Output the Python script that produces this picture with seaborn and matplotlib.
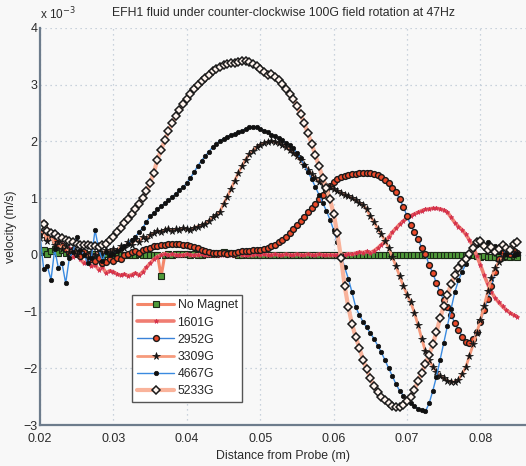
import matplotlib
matplotlib.use("Agg")
import matplotlib.pyplot as plt
import numpy as np
import pandas as pd
import seaborn as sns

# velocity in units of 1e-3 m/s, sampled every 0.5 mm from 0.020 m to 0.085 m
no_magnet = [
    0.05, 0.08, 0.02, 0.06, 0.10, 0.04, 0.08, 0.03, 0.05, 0.02,
    0.04, 0.01, 0.03, 0.00, 0.02, 0.01, 0.00, -0.02, 0.01, 0.00,
    0.00, 0.01, 0.00, 0.00, -0.01, 0.00, 0.00, 0.01, 0.00, 0.00,
    0.00, 0.00, 0.00, -0.38, 0.00, 0.01, 0.00, 0.02, 0.01, 0.02,
    0.01, 0.00, 0.01, 0.00, 0.00, 0.01, 0.02, 0.03, 0.02, 0.04,
    0.05, 0.04, 0.03, 0.01, 0.00, 0.00, 0.01, 0.00, 0.00, 0.00,
    0.00, 0.00, 0.00, 0.00, 0.00, 0.00, 0.00, 0.00, 0.00, 0.00,
    0.00, 0.00, 0.00, 0.00, 0.00, 0.00, 0.00, 0.00, 0.00, 0.00,
    0.00, 0.00, 0.00, 0.00, 0.00, 0.00, 0.00, 0.00, 0.00, 0.00,
    0.00, 0.00, 0.00, 0.00, 0.00, 0.00, 0.00, 0.00, 0.00, 0.00,
    0.00, 0.00, 0.00, 0.00, 0.00, 0.00, 0.00, 0.00, 0.00, 0.00,
    0.00, 0.00, 0.00, 0.00, 0.00, 0.00, 0.00, 0.00, -0.01, -0.02,
    -0.03, -0.02, -0.03, -0.04, -0.03, -0.04, -0.03, -0.02, -0.03, -0.02,
    -0.03,
]
g1601 = [
    0.56, 0.58, 0.45, 0.38, 0.26, 0.32, 0.20, 0.09, 0.12, -0.03,
    0.03, -0.08, -0.15, -0.10, -0.20, -0.18, -0.26, -0.22, -0.32, -0.28,
    -0.30, -0.34, -0.36, -0.34, -0.37, -0.35, -0.32, -0.36, -0.30, -0.22,
    -0.15, -0.08, -0.03, 0.00, 0.02, 0.00, 0.01, 0.00, -0.01, 0.00,
    0.01, 0.00, -0.01, 0.00, 0.01, 0.00, 0.00, 0.01, 0.00, -0.01,
    0.00, 0.01, 0.00, 0.00, 0.01, 0.00, -0.01, 0.00, 0.00, 0.01,
    0.00, 0.01, 0.00, 0.00, 0.01, 0.00, 0.00, 0.01, 0.00, 0.00,
    0.01, 0.00, 0.00, 0.01, 0.00, 0.00, 0.01, 0.00, 0.00, 0.00,
    0.00, 0.00, 0.01, 0.00, 0.02, 0.01, 0.03, 0.05, 0.04, 0.06,
    0.04, 0.07, 0.12, 0.18, 0.23, 0.31, 0.40, 0.47, 0.54, 0.60,
    0.65, 0.69, 0.72, 0.75, 0.78, 0.80, 0.81, 0.82, 0.82, 0.81,
    0.79, 0.75, 0.66, 0.57, 0.50, 0.44, 0.36, 0.26, 0.15, -0.02,
    -0.18, -0.36, -0.52, -0.66, -0.76, -0.84, -0.91, -0.97, -1.02, -1.06,
    -1.09,
]
g2952 = [
    0.40, 0.55, 0.30, 0.38, 0.25, 0.20, 0.15, 0.10, 0.05, 0.08,
    0.02, -0.02, 0.05, 0.00, -0.08, -0.10, -0.05, -0.15, -0.12, -0.08,
    -0.10, -0.05, -0.08, 0.00, 0.02, 0.05, 0.06, 0.04, 0.08, 0.10,
    0.12, 0.15, 0.16, 0.18, 0.18, 0.20, 0.20, 0.19, 0.20, 0.18,
    0.18, 0.16, 0.14, 0.12, 0.09, 0.07, 0.05, 0.04, 0.03, 0.03,
    0.03, 0.02, 0.03, 0.04, 0.05, 0.06, 0.06, 0.07, 0.08, 0.09,
    0.09, 0.10, 0.12, 0.15, 0.18, 0.22, 0.27, 0.32, 0.38, 0.45,
    0.52, 0.60, 0.67, 0.75, 0.82, 0.90, 0.98, 1.06, 1.14, 1.22,
    1.28, 1.33, 1.37, 1.39, 1.40, 1.42, 1.43, 1.44, 1.44, 1.45,
    1.44, 1.42, 1.40, 1.37, 1.32, 1.26, 1.18, 1.10, 0.98, 0.85,
    0.68, 0.52, 0.40, 0.28, 0.12, 0.02, -0.18, -0.32, -0.50, -0.66,
    -0.80, -0.92, -1.06, -1.20, -1.32, -1.44, -1.53, -1.55, -1.49, -1.36,
    -1.18, -0.98, -0.78, -0.55, -0.30, -0.08, 0.04, 0.08, 0.02, 0.06,
    0.04,
]
g3309 = [
    0.30, 0.42, 0.25, 0.35, 0.18, 0.22, 0.10, 0.15, 0.05, 0.08,
    0.02, 0.05, 0.00, -0.05, 0.02, 0.00, 0.05, 0.02, 0.08, 0.05,
    0.10, 0.06, 0.15, 0.12, 0.22, 0.18, 0.28, 0.22, 0.32, 0.28,
    0.35, 0.38, 0.42, 0.40, 0.44, 0.46, 0.42, 0.45, 0.44, 0.47,
    0.45, 0.44, 0.48, 0.50, 0.52, 0.55, 0.60, 0.66, 0.70, 0.76,
    0.90, 1.02, 1.16, 1.30, 1.44, 1.56, 1.68, 1.77, 1.84, 1.90,
    1.94, 1.97, 1.99, 2.00, 1.99, 1.97, 1.94, 1.90, 1.85, 1.80,
    1.74, 1.67, 1.59, 1.50, 1.42, 1.35, 1.29, 1.25, 1.22, 1.20,
    1.16, 1.12, 1.09, 1.06, 1.03, 1.00, 0.96, 0.92, 0.88, 0.80,
    0.68, 0.58, 0.46, 0.36, 0.25, 0.12, -0.04, -0.20, -0.38, -0.55,
    -0.70, -0.84, -1.02, -1.24, -1.48, -1.70, -1.86, -1.97, -2.06, -2.13,
    -2.18, -2.22, -2.24, -2.24, -2.20, -2.10, -1.98, -1.78, -1.58, -1.37,
    -1.15, -0.90, -0.64, -0.40, -0.24, -0.12, -0.04, 0.02, 0.05, 0.00,
    0.03,
]
g4667 = [
    0.35, -0.25, -0.20, -0.44, 0.10, -0.23, -0.15, -0.50, -0.05, 0.05,
    0.32, 0.09, 0.00, -0.15, -0.05, 0.44, 0.10, -0.10, 0.05, 0.00,
    0.02, 0.06, 0.10, 0.15, 0.20, 0.26, 0.32, 0.40, 0.48, 0.58,
    0.68, 0.74, 0.80, 0.86, 0.91, 0.96, 1.02, 1.08, 1.14, 1.20,
    1.26, 1.36, 1.46, 1.57, 1.66, 1.74, 1.82, 1.90, 1.96, 2.01,
    2.05, 2.08, 2.11, 2.13, 2.16, 2.19, 2.22, 2.25, 2.26, 2.25,
    2.22, 2.19, 2.16, 2.12, 2.09, 2.06, 2.02, 1.98, 1.93, 1.88,
    1.80, 1.70, 1.58, 1.46, 1.34, 1.20, 1.06, 0.92, 0.78, 0.62,
    0.44, 0.22, 0.00, -0.22, -0.42, -0.66, -0.92, -1.06, -1.18, -1.28,
    -1.38, -1.48, -1.60, -1.72, -1.86, -2.00, -2.14, -2.28, -2.40, -2.48,
    -2.56, -2.62, -2.67, -2.71, -2.74, -2.76, -2.62, -2.40, -2.15, -1.85,
    -1.55, -1.25, -0.95, -0.66, -0.45, -0.30, -0.16, -0.02, 0.10, 0.18,
    0.20, 0.14, 0.22, 0.08, 0.15, 0.05, 0.12, 0.02, 0.06, 0.00,
    0.02,
]
g5233 = [
    0.50, 0.55, 0.42, 0.38, 0.36, 0.32, 0.30, 0.26, 0.24, 0.22,
    0.20, 0.18, 0.17, 0.18, 0.15, 0.16, 0.14, 0.18, 0.20, 0.26,
    0.32, 0.40, 0.48, 0.56, 0.64, 0.72, 0.80, 0.90, 1.00, 1.12,
    1.27, 1.45, 1.68, 1.85, 2.02, 2.18, 2.32, 2.44, 2.56, 2.66,
    2.75, 2.84, 2.92, 3.00, 3.06, 3.12, 3.18, 3.24, 3.28, 3.31,
    3.34, 3.36, 3.38, 3.39, 3.40, 3.42, 3.41, 3.40, 3.37, 3.33,
    3.28, 3.23, 3.17, 3.19, 3.14, 3.08, 3.01, 2.93, 2.84, 2.74,
    2.62, 2.48, 2.32, 2.14, 1.96, 1.76, 1.56, 1.36, 1.18, 0.98,
    0.72, 0.38, -0.05, -0.55, -0.92, -1.22, -1.45, -1.64, -1.85, -2.02,
    -2.18, -2.32, -2.42, -2.50, -2.56, -2.61, -2.66, -2.69, -2.68, -2.64,
    -2.58, -2.50, -2.38, -2.22, -2.08, -1.92, -1.76, -1.58, -1.36, -1.12,
    -0.90, -0.70, -0.52, -0.36, -0.24, -0.14, -0.08, 0.02, 0.12, 0.22,
    0.24, 0.16, 0.08, 0.14, 0.05, 0.10, 0.18, 0.12, 0.08, 0.20,
    0.22,
]

series_names = ["No Magnet", "1601G", "2952G", "3309G", "4667G", "5233G"]
series_values = [no_magnet, g1601, g2952, g3309, g4667, g5233]
distance = np.linspace(0.020, 0.085, len(no_magnet))

x_ticks = [0.02, 0.03, 0.04, 0.05, 0.06, 0.07, 0.08]
x_tick_labels = ["0.02", "0.03", "0.04", "0.05", "0.06", "0.07", "0.08"]
y_ticks = [-3, -2, -1, 0, 1, 2, 3, 4]

styles = {
    "No Magnet": dict(color="#f4876a", lw=2.2, marker="s", ms=4.0,
                      mfc="#4f9a3a", mec="#1c2a18", mew=0.8),
    "1601G": dict(color="#f07d72", lw=2.6, marker="*", ms=3.5,
                  mfc="#e8352a", mec="#c72a5a", mew=0.4),
    "2952G": dict(color="#3a82d8", lw=1.0, marker="o", ms=4.2,
                  mfc="#ec4a2a", mec="#1a1a1a", mew=1.0),
    "3309G": dict(color="#f69a7c", lw=2.0, marker="*", ms=5.5,
                  mfc="#151515", mec="#151515", mew=0.5),
    "4667G": dict(color="#3a8ae0", lw=1.0, marker="o", ms=3.2,
                  mfc="#101010", mec="#101010", mew=0.5),
    "5233G": dict(color="#f9b39b", lw=3.0, marker="D", ms=3.6,
                  mfc="#fff4ee", mec="#1a1a1a", mew=1.1),
}

df = pd.concat(
    [pd.DataFrame({"distance": distance, "velocity": vals, "field": name})
     for name, vals in zip(series_names, series_values)],
    ignore_index=True,
)

sns.set_style("white")
plt.rcParams["font.family"] = ["Liberation Sans", "DejaVu Sans"]

bg = "#f8f8f8"
fig = plt.figure(figsize=(5.26, 4.66), dpi=100, facecolor=bg)
ax = fig.add_axes([40 / 526, 41 / 466, 486 / 526, 397 / 466])
ax.set_facecolor(bg)

ax.grid(True, color="#b9c6d4", linestyle=(0, (1, 3)), linewidth=0.9)
ax.set_axisbelow(True)

for name in series_names:
    st = styles[name]
    sns.lineplot(
        data=df[df["field"] == name], x="distance", y="velocity", ax=ax,
        sort=False, estimator=None, label=name,
        color=st["color"], linewidth=st["lw"], marker=st["marker"],
        markersize=st["ms"], markerfacecolor=st["mfc"],
        markeredgecolor=st["mec"], markeredgewidth=st["mew"],
    )

ax.set_xlim(0.02, 0.0862)
ax.set_ylim(-3, 4)
ax.set_xticks(x_ticks)
ax.set_xticklabels(x_tick_labels)
ax.set_yticks(y_ticks)
ax.tick_params(direction="in", length=4, width=1, colors="#2a2a2a",
               labelsize=9)
ax.tick_params(axis="x", pad=6)
ax.tick_params(axis="y", pad=2)
for side in ["top", "right"]:
    ax.spines[side].set_visible(False)
for side in ["left", "bottom"]:
    ax.spines[side].set_color("#6d7c8c")
    ax.spines[side].set_linewidth(1.6)

ax.set_xlabel("Distance from Probe (m)", fontsize=8.8, color="#2a2a2a", labelpad=3)
ax.set_ylabel("velocity (m/s)", fontsize=8.8, color="#2a2a2a", labelpad=4)
ax.set_title("EFH1 fluid under counter-clockwise 100G field rotation at 47Hz",
             fontsize=8.8, color="#2a2a2a", pad=9)
ax.text(0.0, 1.015, r"x 10$^{-3}$", transform=ax.transAxes, fontsize=8.5,
        color="#2a2a2a", ha="left", va="bottom")

leg = ax.legend(loc="lower left", bbox_to_anchor=(0.19, 0.058), fontsize=8.8,
                frameon=True, fancybox=False, borderpad=0.4, labelspacing=0.42,
                handlelength=3.0, handletextpad=0.3, borderaxespad=0)
leg.get_frame().set_edgecolor("#555555")
leg.get_frame().set_facecolor("white")
leg.get_frame().set_alpha(1.0)
leg.get_frame().set_linewidth(1.0)

fig.savefig("out.png", dpi=100, facecolor=bg)
